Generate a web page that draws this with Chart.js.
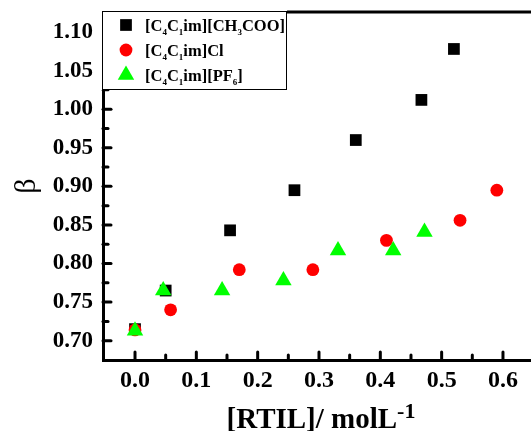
<!DOCTYPE html>
<html>
<head>
<meta charset="utf-8">
<script src="https://cdn.jsdelivr.net/npm/chart.js@4/dist/chart.umd.min.js"></script>
<style>
  body { margin: 0; background: #fff; overflow: hidden; }
  canvas { display: block; }
</style>
</head>
<body>
<canvas id="chart" width="531" height="431"></canvas>
<script>
// series
const seriesLabels = ['[C_4C_1im][CH_3COO]', '[C_4C_1im]Cl', '[C_4C_1im][PF_6]']
const acetateX = [0, 0.05, 0.155, 0.26, 0.36, 0.467, 0.52]
const acetateY = [0.715, 0.765, 0.843, 0.895, 0.96, 1.012, 1.078]
const chlorideX = [0, 0.058, 0.17, 0.29, 0.41, 0.53, 0.59]
const chlorideY = [0.714, 0.740, 0.792, 0.792, 0.830, 0.856, 0.895]
const pf6X = [0, 0.046, 0.142, 0.242, 0.331, 0.421, 0.472]
const pf6Y = [0.713, 0.765, 0.765, 0.778, 0.817, 0.817, 0.841]

// ticks
const xTickLabels = [0, 0.1, 0.2, 0.3, 0.4, 0.5, 0.6]
const xMinorTicks = [0.05, 0.15, 0.25, 0.35, 0.45, 0.55]
const yTickLabels = [0.70, 0.75, 0.80, 0.85, 0.90, 0.95, 1.00, 1.05, 1.10]
const yMinorTicks = [0.725, 0.775, 0.825, 0.875, 0.925, 0.975, 1.025, 1.075]
const xTitle = '[RTIL]/ molL^{-1}'
const yTitle = 'β'

const FONT = "'Liberation Serif', 'Times New Roman', serif"

const toPoints = (xs, ys) => xs.map((x, i) => ({ x: x, y: ys[i] }))

// split "_4" / "^{-1}" into sub/superscript pieces
function richParts(str) {
    const out = []
    const re = /([_^])(\{([^}]*)\}|(.))|([^_^]+)/g
    let m
    while ((m = re.exec(str))) {
        if (m[5]) out.push({ t: m[5], k: 0 })
        else out.push({ t: m[3] !== undefined ? m[3] : m[4], k: m[1] == '_' ? 1 : -1 })
    }
    return out
}
function drawRich(ctx, str, x, y, size, small, shift, align) {
    const parts = richParts(str)
    const fontOf = p => `bold ${p.k ? small : size}px ${FONT}`
    let total = 0
    parts.forEach(p => { ctx.font = fontOf(p); p.w = ctx.measureText(p.t).width; total += p.w })
    let cx = align == 'center' ? x - total / 2 : x
    ctx.textAlign = 'left'
    ctx.textBaseline = 'alphabetic'
    parts.forEach(p => {
        ctx.font = fontOf(p)
        const dy = p.k == 1 ? shift.sub : p.k == -1 ? -shift.sup : 0
        ctx.fillText(p.t, cx, y + dy)
        cx += p.w
    })
}

// no extra room for overflowing tick labels, the area is set by hand
const noPadding = scale => {
    scale.paddingTop = 0
    scale.paddingBottom = 0
    scale.paddingLeft = 0
    scale.paddingRight = 0
}

const framePlugin = {
    id: 'frame',
    afterDatasetsDraw(chart) {
        const { ctx, chartArea: a, scales } = chart
        const x = scales.x, y = scales.y
        ctx.save()
        ctx.strokeStyle = '#000'
        ctx.lineWidth = 3
        ctx.lineCap = 'butt'
        ctx.beginPath()
        ctx.moveTo(a.left - 1.5, a.top)
        ctx.lineTo(chart.width, a.top)
        ctx.stroke()
        // inward tick marks
        ctx.lineCap = 'round'
        const tick = (x1, y1, x2, y2) => { ctx.beginPath(); ctx.moveTo(x1, y1); ctx.lineTo(x2, y2); ctx.stroke() }
        xTickLabels.forEach(v => { const p = x.getPixelForValue(v); tick(p, a.bottom, p, a.bottom - 8) })
        xMinorTicks.forEach(v => { const p = x.getPixelForValue(v); tick(p, a.bottom, p, a.bottom - 5) })
        yTickLabels.forEach(v => { const p = y.getPixelForValue(v); tick(a.left, p, a.left + 8, p) })
        yMinorTicks.forEach(v => { const p = y.getPixelForValue(v); tick(a.left, p, a.left + 5, p) })
        ctx.restore()
    },
    afterDraw(chart) {
        const { ctx, chartArea: a } = chart
        ctx.save()
        ctx.setTransform(1, 0, 0, 1, 0, 0)
        // the original plot has no right border, it runs off the picture
        ctx.clearRect(chart.width - 6, a.top + 2, 6, a.bottom - a.top - 4)
        ctx.fillStyle = '#fff'
        ctx.fillRect(chart.width - 6, a.top + 2, 6, a.bottom - a.top - 4)
        // legend box sits over the frame corner
        ctx.fillRect(a.left - 2, a.top - 2, 186, 80)
        ctx.strokeStyle = '#000'
        ctx.lineWidth = 1
        ctx.strokeRect(a.left - 0.5, a.top - 0.5, 184, 78)
        chart.data.datasets.forEach((ds, i) => {
            const cy = a.top + 13 + i * 25
            ctx.fillStyle = ds.backgroundColor
            Chart.helpers.drawPoint(ctx, { pointStyle: ds.pointStyle, radius: ds.pointRadius, rotation: 0, borderWidth: 0 }, a.left + 23, cy)
            ctx.fillStyle = '#000'
            drawRich(ctx, ds.label, a.left + 42, cy + 6, 16.5, 9, { sub: 4, sup: 6 }, 'left')
        })
        // x axis title with superscript
        ctx.fillStyle = '#000'
        drawRich(ctx, xTitle, 321, 428, 29, 22, { sub: 4, sup: 10 }, 'center')
        ctx.restore()
    }
}

new Chart(document.getElementById('chart'), {
    type: 'scatter',
    data: {
        datasets: [
            { label: seriesLabels[0], data: toPoints(acetateX, acetateY), pointStyle: 'rect', pointRadius: 8.3, backgroundColor: '#000000', borderWidth: 0, order: 3 },
            { label: seriesLabels[1], data: toPoints(chlorideX, chlorideY), pointStyle: 'circle', pointRadius: 6.4, backgroundColor: '#ff0000', borderWidth: 0, order: 2 },
            { label: seriesLabels[2], data: toPoints(pf6X, pf6Y), pointStyle: 'triangle', pointRadius: 9.5, backgroundColor: '#00ff00', borderWidth: 0, order: 1 }
        ]
    },
    options: {
        responsive: false,
        devicePixelRatio: 1,
        animation: false,
        events: [],
        layout: { autoPadding: false, padding: { left: 0, right: 0, top: 12, bottom: 0 } },
        plugins: { legend: { display: false }, tooltip: { enabled: false } },
        scales: {
            x: {
                type: 'linear',
                min: -0.0522,
                max: 0.6457,
                grid: { display: false, drawTicks: false },
                border: { display: true, width: 3, color: '#000' },
                afterBuildTicks: scale => { scale.ticks = xTickLabels.map(v => ({ value: v })) },
                afterFit: scale => { scale.height = 71; noPadding(scale) },
                ticks: {
                    color: '#000',
                    padding: 6,
                    maxRotation: 0,
                    font: { family: FONT, size: 24, weight: 'bold' },
                    callback: v => Number(v).toFixed(1)
                }
            },
            y: {
                type: 'linear',
                min: 0.675,
                max: 1.1259,
                grid: { display: false, drawTicks: false },
                border: { display: true, width: 3, color: '#000' },
                afterBuildTicks: scale => { scale.ticks = yTickLabels.map(v => ({ value: v })) },
                afterFit: scale => { scale.width = 103; noPadding(scale) },
                title: {
                    display: true,
                    text: yTitle,
                    color: '#000',
                    padding: { top: 9, bottom: 0 },
                    font: { family: FONT, size: 30 }
                },
                ticks: {
                    color: '#000',
                    padding: 10,
                    font: { family: FONT, size: 23, weight: 'bold' },
                    callback: v => Number(v).toFixed(2)
                }
            }
        }
    },
    plugins: [framePlugin]
})
</script>
</body>
</html>
